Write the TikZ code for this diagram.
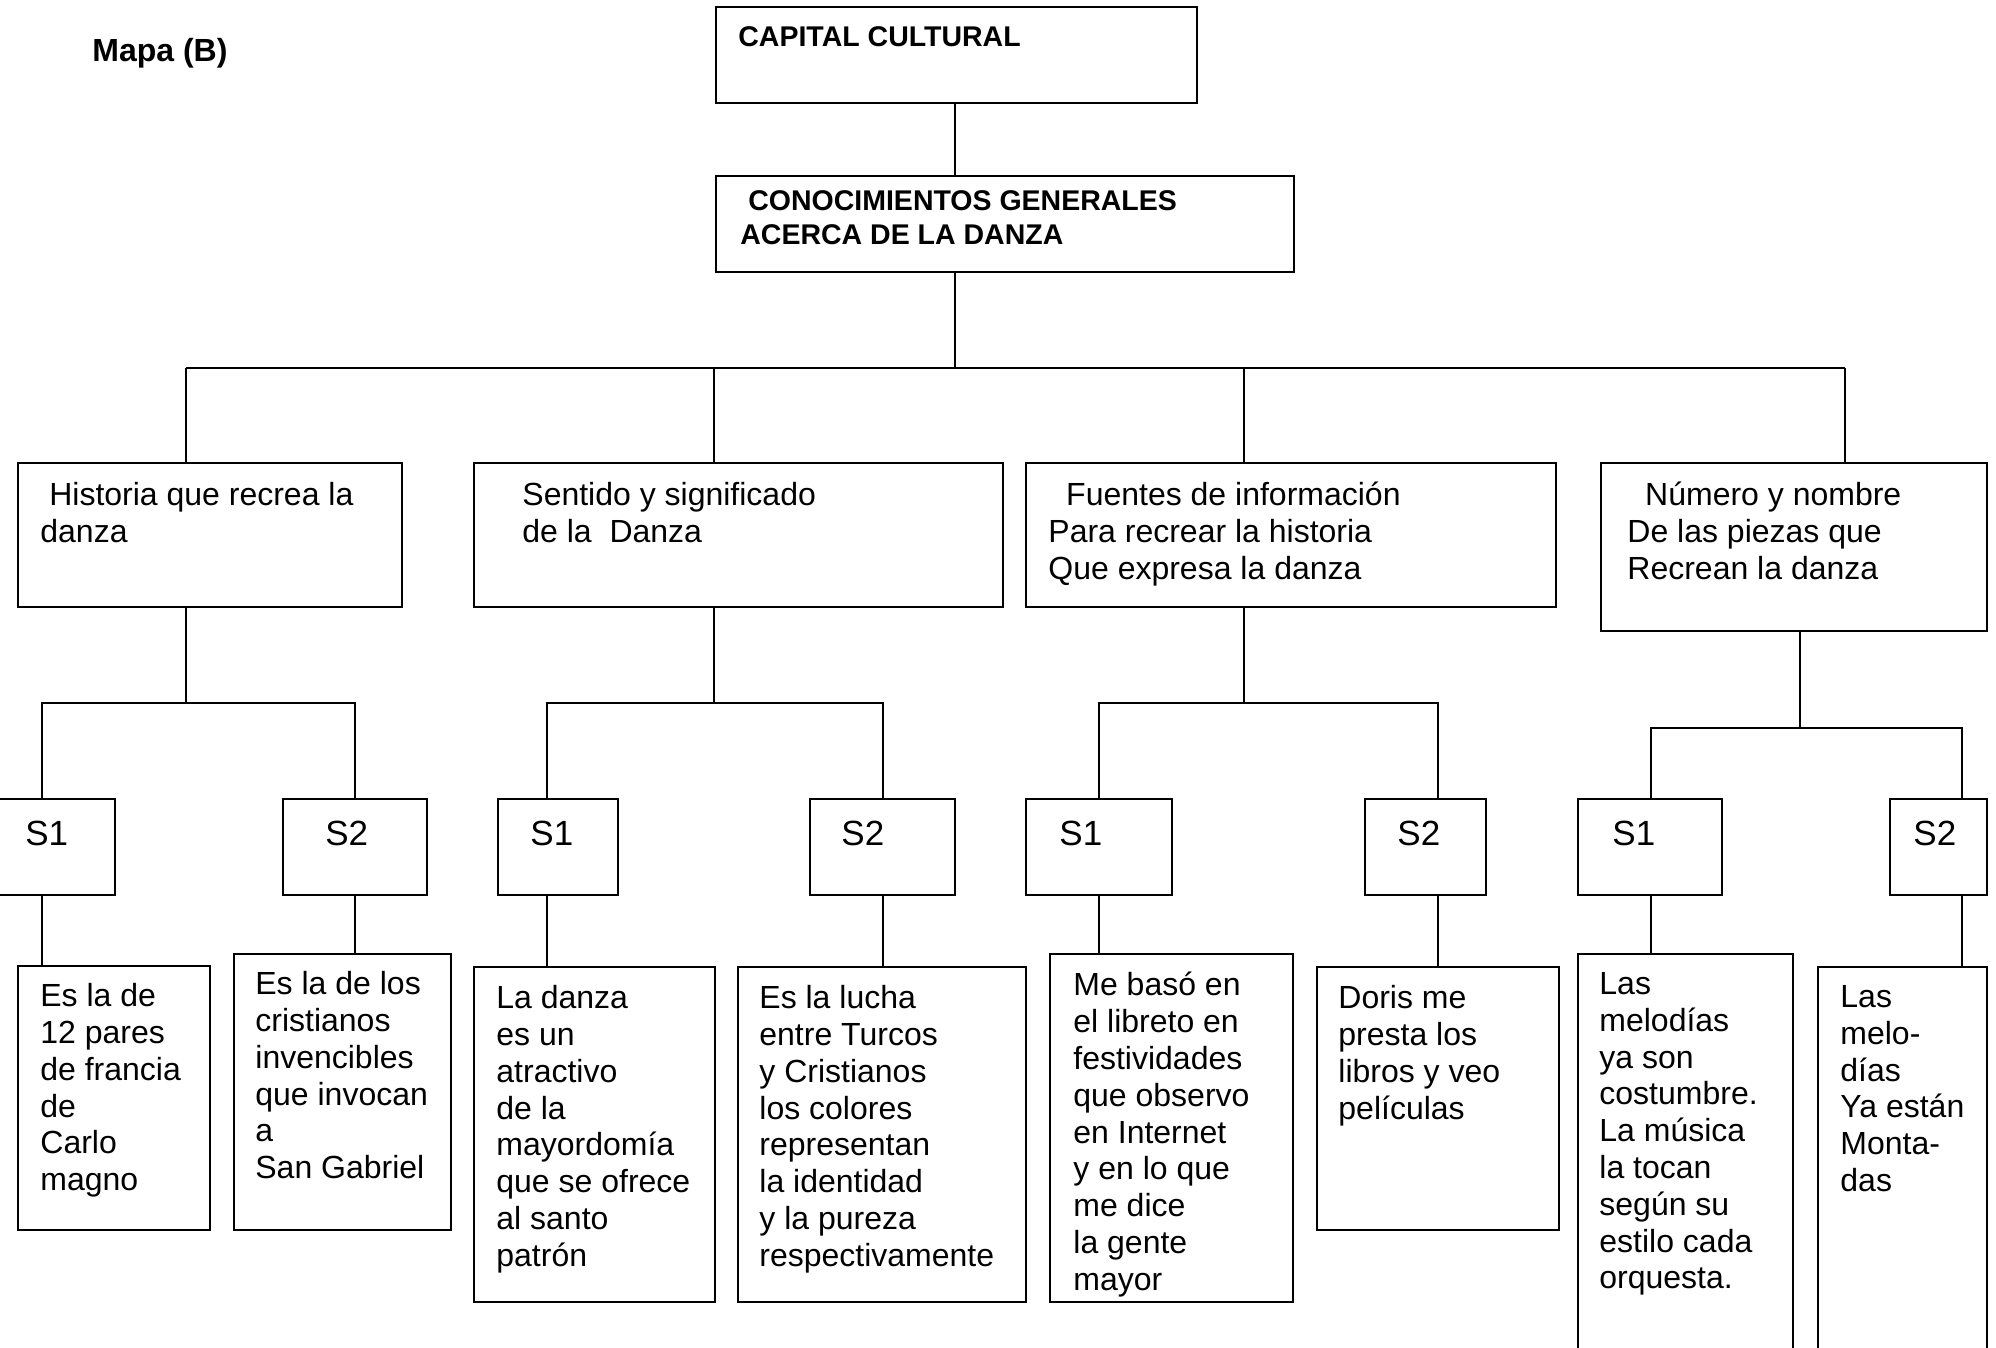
\documentclass[tikz,border=0pt]{standalone}
\usepackage{fontspec}
\setmainfont{Liberation Sans}
\usetikzlibrary{fit}
\newcommand{\lsp}{\hspace*{0.278em}}

\begin{document}
\begin{tikzpicture}[x=0.5pt, y=-0.5pt,
  box/.style={draw, line width=1.2pt, inner sep=0pt},
  wire/.style={line width=0.7pt},
  % text blocks: placed by the baseline of their first line
  txt/.style={anchor=north west, yshift=11pt, inner sep=0pt, align=left,
    execute at begin node={\rule{0pt}{13pt}},
    font=\fontsize{16}{18.4}\selectfont},
  head/.style={anchor=north west, yshift=13pt, inner sep=0pt, align=left,
    execute at begin node={\rule{0pt}{13pt}},
    font=\bfseries\fontsize{14.25}{17}\selectfont},
  slabel/.style={anchor=base west, inner sep=0pt,
    font=\fontsize{17.5}{20}\selectfont}]

\useasboundingbox (0,0) rectangle (1996,1348);
\clip (0,0) rectangle (1996,1348);

% title
\node[anchor=base west, inner sep=0pt, font=\bfseries\fontsize{16}{18}\selectfont]
  (title) at (92,62) {Mapa (B)};

% top levels
\node[box, fit={(716,7) (1197,103)}] (cap) {};
\node[head] (capt) at (738,46) {CAPITAL CULTURAL};
\node[box, fit={(716,176) (1294,272)}] (con) {};
\node[head] (cont) at (740,216) {\lsp CONOCIMIENTOS GENERALES\\ACERCA DE LA DANZA};

% second level
\node[box, fit={(18,463) (402,607)}] (h1) {};
\node[txt] (h1t) at (40,504) {\lsp Historia que recrea la\\danza};
\node[box, fit={(474,463) (1003,607)}] (h2) {};
\node[txt] (h2t) at (522,504) {Sentido y significado\\de la\lsp\lsp Danza};
\node[box, fit={(1026,463) (1556,607)}] (h3) {};
\node[txt] (h3t) at (1048,504) {\lsp\lsp Fuentes de información\\Para recrear la historia\\Que expresa la danza};
\node[box, fit={(1601,463) (1987,631)}] (h4) {};
\node[txt] (h4t) at (1627,504) {\lsp\lsp Número y nombre\\De las piezas que\\Recrean la danza};

% S boxes
\node[box, fit={(-5,799) (115,895)}] (s11) {};
\node[slabel] (s11t) at (25,845) {S1};
\node[box, fit={(283,799) (427,895)}] (s12) {};
\node[slabel] (s12t) at (325,845) {S2};
\node[box, fit={(498,799) (618,895)}] (s21) {};
\node[slabel] (s21t) at (530,845) {S1};
\node[box, fit={(810,799) (955,895)}] (s22) {};
\node[slabel] (s22t) at (841,845) {S2};
\node[box, fit={(1026,799) (1172,895)}] (s31) {};
\node[slabel] (s31t) at (1059,845) {S1};
\node[box, fit={(1365,799) (1486,895)}] (s32) {};
\node[slabel] (s32t) at (1397,845) {S2};
\node[box, fit={(1578,799) (1722,895)}] (s41) {};
\node[slabel] (s41t) at (1612,845) {S1};
\node[box, fit={(1890,799) (1987,895)}] (s42) {};
\node[slabel] (s42t) at (1913,845) {S2};

% answer boxes
\node[box, fit={(18,966) (210,1230)}] (t11) {};
\node[txt] (t11t) at (40,1005) {Es la de\\12 pares\\de francia\\de\\Carlo\\magno};
\node[box, fit={(234,954) (451,1230)}] (t12) {};
\node[txt] (t12t) at (255,993) {Es la de los\\cristianos\\invencibles\\que invocan\\a\\San Gabriel};
\node[box, fit={(474,967) (715,1302)}] (t21) {};
\node[txt] (t21t) at (496,1007) {La danza\\es un\\atractivo\\de la\\mayordomía\\que se ofrece\\al santo\\patrón};
\node[box, fit={(738,967) (1026,1302)}] (t22) {};
\node[txt] (t22t) at (759,1007) {Es la lucha\\entre Turcos\\y Cristianos\\los colores\\representan\\la identidad\\y la pureza\\respectivamente};
\node[box, fit={(1050,954) (1293,1302)}] (t31) {};
\node[txt] (t31t) at (1073,994) {Me basó en\\el libreto en\\festividades\\que observo\\en Internet\\y en lo que\\me dice\\la gente\\mayor};
\node[box, fit={(1317,967) (1559,1230)}] (t32) {};
\node[txt] (t32t) at (1338,1007) {Doris me\\presta los\\libros y veo\\películas};
\node[box, fit={(1578,954) (1793,1370)}] (t41) {};
\node[txt] (t41t) at (1599,994) {Las\\melodías\\ya son\\costumbre.\\La música\\la tocan\\según su\\estilo cada\\orquesta.};
\node[box, fit={(1818,967) (1987,1370)}] (t42) {};
\node[txt] (t42t) at (1840,1007) {Las\\melo-\\días\\Ya están\\Monta-\\das};

% junction points
\coordinate (bus) at (955,368);
\coordinate (b1) at (186,368);
\coordinate (b2) at (714,368);
\coordinate (b3) at (1244,368);
\coordinate (b4) at (1845,368);
\coordinate (j1) at (186,703);
\coordinate (j2) at (714,703);
\coordinate (j3) at (1244,703);
\coordinate (j4) at (1800,728);
\coordinate (k11) at (42,703);
\coordinate (k12) at (355,703);
\coordinate (k21) at (547,703);
\coordinate (k22) at (883,703);
\coordinate (k31) at (1099,703);
\coordinate (k32) at (1438,703);
\coordinate (k41) at (1651,728);
\coordinate (k42) at (1962,728);

% connectors, top part
\draw[wire] (bus |- cap.south) -- (bus |- con.north);
\draw[wire] (bus |- con.south) -- (bus);
\draw[wire] (b1) -- (b4);
\draw[wire] (b1) -- (b1 |- h1.north);
\draw[wire] (b2) -- (b2 |- h2.north);
\draw[wire] (b3) -- (b3 |- h3.north);
\draw[wire] (b4) -- (b4 |- h4.north);

% connectors, branches
\draw[wire] (j1 |- h1.south) -- (j1);
\draw[wire] (j2 |- h2.south) -- (j2);
\draw[wire] (j3 |- h3.south) -- (j3);
\draw[wire] (j4 |- h4.south) -- (j4);
\draw[wire] (k11 |- s11.north) -- (k11) -- (k12) -- (k12 |- s12.north);
\draw[wire] (k21 |- s21.north) -- (k21) -- (k22) -- (k22 |- s22.north);
\draw[wire] (k31 |- s31.north) -- (k31) -- (k32) -- (k32 |- s32.north);
\draw[wire] (k41 |- s41.north) -- (k41) -- (k42) -- (k42 |- s42.north);

% connectors, S boxes to answers
\draw[wire] (k11 |- s11.south) -- (k11 |- t11.north);
\draw[wire] (k12 |- s12.south) -- (k12 |- t12.north);
\draw[wire] (k21 |- s21.south) -- (k21 |- t21.north);
\draw[wire] (k22 |- s22.south) -- (k22 |- t22.north);
\draw[wire] (k31 |- s31.south) -- (k31 |- t31.north);
\draw[wire] (k32 |- s32.south) -- (k32 |- t32.north);
\draw[wire] (k41 |- s41.south) -- (k41 |- t41.north);
\draw[wire] (k42 |- s42.south) -- (k42 |- t42.north);
\end{tikzpicture}
\end{document}
